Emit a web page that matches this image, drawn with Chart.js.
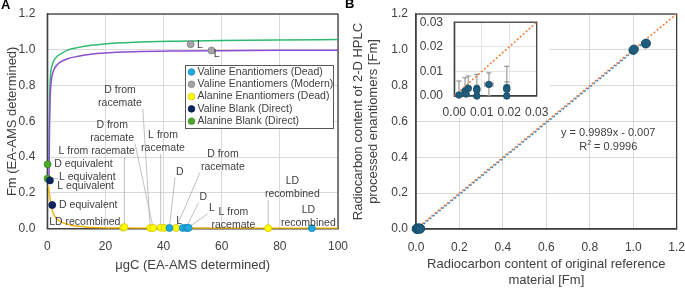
<!DOCTYPE html>
<html>
<head>
<meta charset="utf-8">
<script src="https://cdn.jsdelivr.net/npm/chart.js@4.4.1/dist/chart.umd.min.js"></script>
<style>
  html, body { margin: 0; padding: 0; background: #fff; overflow: hidden; width: 685px; height: 288px; }
  .wrap { position: absolute; }
  #wrapA { left: 0; top: 0; width: 360px; height: 288px; }
  #wrapB { left: 345px; top: 0; width: 340px; height: 288px; }
  #wrapIn { left: 417px; top: 15px; width: 133px; height: 103px; background: #fff; }
  .letter { position: absolute; font: bold 13px "Liberation Sans", Arial, sans-serif; color: #000; }
</style>
</head>
<body>
<div class="wrap" id="wrapA"><canvas id="chartA" width="360" height="288"></canvas></div>
<div class="wrap" id="wrapB"><canvas id="chartB" width="340" height="288"></canvas></div>
<div class="wrap" id="wrapIn"><canvas id="chartIn" width="133" height="103"></canvas></div>
<div class="letter" style="left:1px;top:-3px;">A</div>
<div class="letter" style="left:345px;top:-4px;">B</div>
<script>
// ---- Panel A data: Fm vs µgC ----
const valDeadX = [42.0, 46.6, 47.7, 48.2, 48.6, 91.0];
const valDeadY = [0.004, 0.004, 0.005, 0.004, 0.005, 0.003];
const valDeadLabels = ['D', 'L', 'D', 'L', 'L from\nracemate', 'LD\nrecombined'];

const valModX = [49.3, 56.5];
const valModY = [1.031, 0.996];
const valModLabels = ['L', 'L'];

const alaDeadX = [26.1, 26.5, 35.4, 36.4, 39.0, 40.3, 44.3, 76.0];
const alaDeadY = [0.006, 0.009, 0.004, 0.004, 0.006, 0.004, 0.004, 0.003];
const alaDeadLabels = ['LD recombined', 'L from racemate', 'D from\nracemate', 'D from\nracemate', 'L from\nracemate', '', 'D from\nracemate', 'LD\nrecombined'];

const valBlankX = [0.9, 1.7];
const valBlankY = [0.27, 0.132];
const valBlankLabels = ['L equivalent', 'D equivalent'];

const alaBlankX = [0.1, 0.1];
const alaBlankY = [0.36, 0.28];
const alaBlankLabels = ['D equivalent', 'L equivalent'];

// blank-correction curves
const modernCurveX = [0.55, 0.62, 0.7, 0.8, 0.95, 1.15, 1.6, 2.3, 3.5, 4.6, 7, 10.3, 15, 19.5, 30, 45, 60, 80, 100];
const modernCurveY = [0.36, 0.5, 0.62, 0.73, 0.82, 0.87, 0.91, 0.94, 0.965, 0.977, 0.998, 1.012, 1.025, 1.033, 1.042, 1.048, 1.052, 1.055, 1.057];
const valCurveX = [0.6, 0.68, 0.76, 0.86, 1.0, 1.15, 1.6, 2.3, 3.5, 4.6, 7, 10.3, 15, 19.5, 30, 45, 60, 80, 100];
const valCurveY = [0.28, 0.42, 0.55, 0.66, 0.74, 0.79, 0.85, 0.89, 0.918, 0.932, 0.95, 0.963, 0.975, 0.982, 0.989, 0.993, 0.995, 0.997, 0.998];
const deadCurveX = [0.35, 0.6, 0.85, 1.1, 1.5, 2.1, 3, 4.5, 6.5, 9, 13, 18, 25, 40, 70, 100];
const deadCurveY = [0.24, 0.21, 0.18, 0.15, 0.115, 0.085, 0.06, 0.04, 0.027, 0.017, 0.01, 0.006, 0.004, 0.003, 0.002, 0.002];

// where each point's note text sits (data units of panel A)
const valDeadNoteAt = [[45.6, 0.318], [45.4, 0.045], [53.7, 0.178], [56.6, 0.114], [64.0, 0.058], [89.8, 0.069]];
const valModNoteAt = [[52.5, 1.024], [58.3, 0.978]];
const alaDeadNoteAt = [[12.9, 0.039], [17.0, 0.431], [25.0, 0.736], [22.3, 0.543], [39.8, 0.485], null, [60.4, 0.381], [84.3, 0.227]];
const valBlankNoteAt = [[13.2, 0.238], [14.1, 0.132]];
const alaBlankNoteAt = [[12.45, 0.359], [13.76, 0.2865]];

// ---- Panel B data: original vs 2-D HPLC Fm ----
const refFm  = [0.0017, 0.0039, 0.0043, 0.0051, 0.0082, 0.0082, 0.0082, 0.0126, 0.0191, 0.0191, 0.0191, 1.000, 1.004, 1.057, 1.060];
const hplcFm = [0.0004, 0.0020, 0.0008, 0.0031, 0.0030, 0.0024, 0.0000, 0.0047, 0.0034, 0.0027, 0.0000, 0.998, 1.003, 1.034, 1.036];
const hplcErr = [0.0057, 0.0054, 0.0020, 0.0050, 0.0058, 0.0020, 0.0010, 0.0047, 0.0087, 0.0030, 0.0010, 0.004, 0.004, 0.004, 0.004];
const refErr  = [0, 0, 0, 0, 0, 0, 0, 0.0015, 0, 0, 0, 0, 0, 0, 0];
const oneToOneX = [0, 1.2];
const oneToOneY = [0, 1.2];
const trendX = [0, 1.06];
const trendY = [-0.007, 1.052];
const fitText = 'y = 0.9989x - 0.007';
const r2Text = '0.9996';

const FONT = '"Liberation Sans", Arial, sans-serif';
const TXT = '#404040';
Chart.defaults.font.family = FONT;
Chart.defaults.color = TXT;

const xy = (X, Y) => X.map((x, i) => ({ x: x, y: Y[i] }));

function pts(label, X, Y, bg, border, notes, noteAt) {
  return {
    label: label, data: xy(X, Y), inLegend: true,
    backgroundColor: bg, borderColor: border,
    pointRadius: 3.5, pointBorderWidth: 0.8, clip: false,
    notes: notes, noteAt: noteAt
  };
}
function curve(X, Y, color) {
  return {
    type: 'line', data: xy(X, Y), borderColor: color, borderWidth: 1.5,
    pointRadius: 0, cubicInterpolationMode: 'monotone', fill: false
  };
}
// invisible tick marks give the label gap without pushing the chart area in
function grid(color, gap) {
  return { color: color, drawTicks: true, tickLength: gap, tickColor: 'rgba(0,0,0,0)' };
}

// top and right edge of the plot frame
const frame = {
  id: 'frame',
  beforeDatasetsDraw(chart) {
    const { ctx, chartArea: a } = chart;
    ctx.save();
    ctx.strokeStyle = '#404040';
    ctx.lineWidth = 1.3;
    ctx.strokeRect(a.left, a.top, a.right - a.left, a.bottom - a.top);
    ctx.restore();
  }
};

// point notes with leader lines
function noteGeometry(chart) {
  const { ctx, scales: { x, y } } = chart;
  ctx.save();
  ctx.font = '10.5px ' + FONT;
  const out = [];
  chart.data.datasets.forEach(d => {
    if (!d.notes) return;
    d.data.forEach((p, i) => {
      const t = d.notes[i], at = d.noteAt[i];
      if (!t || !at) return;
      const lines = t.split('\n');
      const w = Math.max(...lines.map(l => ctx.measureText(l).width));
      out.push({
        lines: lines, cx: x.getPixelForValue(at[0]), cy: y.getPixelForValue(at[1]),
        hw: w / 2 + 1, hh: lines.length * 13 / 2 - 1,
        px: x.getPixelForValue(p.x), py: y.getPixelForValue(p.y)
      });
    });
  });
  ctx.restore();
  return out;
}
const notes = {
  id: 'notes',
  beforeDatasetsDraw(chart) {
    const ctx = chart.ctx;
    ctx.save();
    ctx.strokeStyle = '#a6a6a6';
    ctx.lineWidth = 0.7;
    noteGeometry(chart).forEach(n => {
      const nx = Math.min(Math.max(n.px, n.cx - n.hw), n.cx + n.hw);
      const ny = Math.min(Math.max(n.py, n.cy - n.hh), n.cy + n.hh);
      if (Math.hypot(nx - n.px, ny - n.py) < 7) return;
      ctx.beginPath();
      ctx.moveTo(nx, ny);
      ctx.lineTo(n.px, n.py);
      ctx.stroke();
    });
    ctx.restore();
  },
  afterDatasetsDraw(chart) {
    const ctx = chart.ctx;
    ctx.save();
    ctx.font = '10.5px ' + FONT;
    ctx.fillStyle = TXT;
    ctx.textAlign = 'center';
    ctx.textBaseline = 'middle';
    noteGeometry(chart).forEach(n => {
      n.lines.forEach((l, i) => {
        ctx.fillText(l, n.cx, n.cy + (i - (n.lines.length - 1) / 2) * 13);
      });
    });
    ctx.restore();
  }
};

const legendBox = {
  id: 'legendBox',
  afterDraw(chart, args, o) {
    const ctx = chart.ctx;
    const items = chart.data.datasets.filter(d => d.inLegend);
    ctx.save();
    ctx.fillStyle = '#fff';
    ctx.fillRect(o.x, o.y, o.w, o.h);
    ctx.strokeStyle = '#595959';
    ctx.lineWidth = 1;
    ctx.strokeRect(o.x + 0.5, o.y + 0.5, o.w, o.h);
    ctx.font = '10.5px ' + FONT;
    ctx.textBaseline = 'middle';
    ctx.textAlign = 'left';
    items.forEach((d, i) => {
      const yy = o.y + 7 + i * 12.3;
      ctx.beginPath();
      ctx.arc(o.x + 6.5, yy, 3.3, 0, Math.PI * 2);
      ctx.fillStyle = d.backgroundColor;
      ctx.fill();
      ctx.strokeStyle = d.borderColor;
      ctx.lineWidth = 0.8;
      ctx.stroke();
      ctx.fillStyle = TXT;
      ctx.fillText(d.label, o.x + 12.5, yy);
    });
    ctx.restore();
  }
};

// vertical/horizontal error bars for panel B
const errorBars = {
  id: 'errorBars',
  beforeDatasetsDraw(chart) {
    const { ctx, chartArea: a, scales: { x, y } } = chart;
    ctx.save();
    ctx.beginPath();
    ctx.rect(a.left, a.top, a.right - a.left, a.bottom - a.top);
    ctx.clip();
    refFm.forEach((r, i) => {
      const px = x.getPixelForValue(r), py = y.getPixelForValue(hplcFm[i]);
      const top = y.getPixelForValue(hplcFm[i] + hplcErr[i]);
      const bot = y.getPixelForValue(hplcFm[i] - hplcErr[i]);
      ctx.strokeStyle = '#b3b3b3';
      ctx.lineWidth = 1.6;
      ctx.beginPath(); ctx.moveTo(px, top); ctx.lineTo(px, bot); ctx.stroke();
      ctx.strokeStyle = '#7f7f7f';
      ctx.lineWidth = 1;
      ctx.beginPath();
      ctx.moveTo(px - 2.5, top); ctx.lineTo(px + 2.5, top);
      ctx.moveTo(px - 2.5, bot); ctx.lineTo(px + 2.5, bot);
      ctx.stroke();
      if (refErr[i] > 0) {
        const l = x.getPixelForValue(r - refErr[i]), rr = x.getPixelForValue(r + refErr[i]);
        ctx.strokeStyle = '#b3b3b3';
        ctx.lineWidth = 1.6;
        ctx.beginPath(); ctx.moveTo(l, py); ctx.lineTo(rr, py); ctx.stroke();
        ctx.strokeStyle = '#7f7f7f';
        ctx.lineWidth = 1;
        ctx.beginPath();
        ctx.moveTo(l, py - 2.5); ctx.lineTo(l, py + 2.5);
        ctx.moveTo(rr, py - 2.5); ctx.lineTo(rr, py + 2.5);
        ctx.stroke();
      }
    });
    ctx.restore();
  }
};

const fitNote = {
  id: 'fitNote',
  afterDatasetsDraw(chart) {
    const { ctx, scales: { x, y } } = chart;
    const cx = x.getPixelForValue(0.885);
    ctx.save();
    ctx.fillStyle = TXT;
    ctx.font = '11px ' + FONT;
    ctx.textBaseline = 'middle';
    ctx.textAlign = 'center';
    ctx.fillText(fitText, cx, y.getPixelForValue(0.534));
    const a = 'R', b = ' = ' + r2Text;
    const wa = ctx.measureText(a).width, wb = ctx.measureText(b).width;
    ctx.font = '7px ' + FONT;
    const ws = ctx.measureText('2').width;
    const start = cx - (wa + ws + wb) / 2, yy = y.getPixelForValue(0.456);
    ctx.textAlign = 'left';
    ctx.fillText('2', start + wa, yy - 4);
    ctx.font = '11px ' + FONT;
    ctx.fillText(a, start, yy);
    ctx.fillText(b, start + wa + ws, yy);
    ctx.restore();
  }
};

const gridColor = '#d9d9d9';
const axisBorder = { color: '#404040', width: 1.3 };

// ---- Panel A ----
new Chart(document.getElementById('chartA'), {
  type: 'scatter',
  data: {
    datasets: [
      pts('Valine Enantiomers (Dead)', valDeadX, valDeadY, '#20a9e2', '#1989ba', valDeadLabels, valDeadNoteAt),
      pts('Valine Enantiomers (Modern)', valModX, valModY, '#a5a5a5', '#7f7f7f', valModLabels, valModNoteAt),
      pts('Alanine Enantiomers (Dead)', alaDeadX, alaDeadY, '#ffff00', '#d4c400', alaDeadLabels, alaDeadNoteAt),
      pts('Valine Blank (Direct)', valBlankX, valBlankY, '#0c2461', '#081a47', valBlankLabels, valBlankNoteAt),
      pts('Alanine Blank (Direct)', alaBlankX, alaBlankY, '#4ea72e', '#3b8a22', alaBlankLabels, alaBlankNoteAt),
      curve(deadCurveX, deadCurveY, '#f4b400'),
      curve(valCurveX, valCurveY, '#8c4fd2'),
      curve(modernCurveX, modernCurveY, '#2dbb6f')
    ]
  },
  options: {
    responsive: false,
    animation: false,
    layout: { padding: { top: 14, right: 22, left: 0, bottom: 0 } },
    plugins: {
      legend: { display: false },
      tooltip: { enabled: false },
      legendBox: { x: 185, y: 65, w: 148, h: 63 }
    },
    scales: {
      x: {
        type: 'linear', min: 0, max: 100,
        ticks: { stepSize: 20, padding: 0, font: { size: 12 } },
        grid: grid(gridColor, 11),
        border: axisBorder,
        title: { display: true, text: 'μgC (EA-AMS determined)', font: { size: 13 }, padding: { top: 0, bottom: 15 } },
        afterFit(s) { s.height = 59.3; }
      },
      y: {
        min: 0, max: 1.2,
        ticks: { stepSize: 0.2, padding: 0, font: { size: 12 }, callback: v => v.toFixed(1) },
        grid: grid(gridColor, 12),
        border: axisBorder,
        title: { display: true, text: 'Fm (EA-AMS determined)', font: { size: 13 }, padding: { top: 5, bottom: 0 } },
        afterFit(s) { s.width = 47.3; }
      }
    }
  },
  plugins: [frame, notes, legendBox]
});

// ---- Panel B ----
const bPoints = {
  label: 'Enantiomers', data: xy(refFm, hplcFm),
  backgroundColor: '#1f5d7d', borderColor: '#184c68',
  pointRadius: 4.3, pointBorderWidth: 0.8, clip: false
};
const oneToOne = {
  type: 'line', data: xy(oneToOneX, oneToOneY), borderColor: '#f07f3c',
  borderWidth: 1.6, borderDash: [2, 2], pointRadius: 0
};
const trend = {
  type: 'line', data: xy(trendX, trendY), borderColor: '#4a8ac4',
  borderWidth: 1.6, borderDash: [2, 2], borderDashOffset: 2, pointRadius: 0
};

new Chart(document.getElementById('chartB'), {
  type: 'scatter',
  data: { datasets: [bPoints, trend, oneToOne] },
  options: {
    responsive: false,
    animation: false,
    layout: { padding: { top: 14, right: 8.3, left: 0, bottom: 0 } },
    plugins: { legend: { display: false }, tooltip: { enabled: false } },
    scales: {
      x: {
        type: 'linear', min: 0, max: 1.2,
        ticks: { stepSize: 0.2, padding: 0, font: { size: 12 }, callback: v => v.toFixed(1) },
        grid: grid(gridColor, 11),
        border: axisBorder,
        title: { display: true, text: ['Radiocarbon content of original reference', 'material [Fm]'], font: { size: 13 }, padding: { top: 0, bottom: 0 } },
        afterFit(s) { s.height = 59; }
      },
      y: {
        min: 0, max: 1.2,
        ticks: { stepSize: 0.2, padding: 0, font: { size: 12 }, callback: v => v.toFixed(1) },
        grid: grid(gridColor, 8),
        border: axisBorder,
        title: { display: true, text: ['Radiocarbon content of 2-D HPLC', 'processed enantiomers [Fm]'], font: { size: 13 }, padding: { top: 5.5, bottom: 0 } },
        afterFit(s) { s.width = 71; }
      }
    }
  },
  plugins: [frame, errorBars, fitNote]
});

// ---- Panel B inset (zoom near zero) ----
new Chart(document.getElementById('chartIn'), {
  type: 'scatter',
  data: {
    datasets: [
      Object.assign({}, bPoints, { data: xy(refFm, hplcFm), pointRadius: 3.3 }),
      Object.assign({}, oneToOne, { data: xy(oneToOneX, oneToOneY) })
    ]
  },
  options: {
    responsive: false,
    animation: false,
    layout: { padding: { top: 6.7, right: 13.3, left: 0, bottom: 0 } },
    plugins: { legend: { display: false }, tooltip: { enabled: false } },
    scales: {
      x: {
        type: 'linear', min: 0, max: 0.03,
        ticks: { stepSize: 0.01, padding: 0, autoSkip: false, maxRotation: 0, font: { size: 12 }, callback: v => v.toFixed(2) },
        grid: grid('#e3e3e3', 9.3),
        border: axisBorder,
        afterFit(s) { s.height = 22; }
      },
      y: {
        min: 0, max: 0.03,
        ticks: { stepSize: 0.01, padding: 0, font: { size: 12 }, callback: v => v.toFixed(2) },
        grid: grid('#e3e3e3', 11.3),
        border: axisBorder,
        afterFit(s) { s.width = 37.3; }
      }
    }
  },
  plugins: [frame, errorBars]
});
</script>
</body>
</html>
